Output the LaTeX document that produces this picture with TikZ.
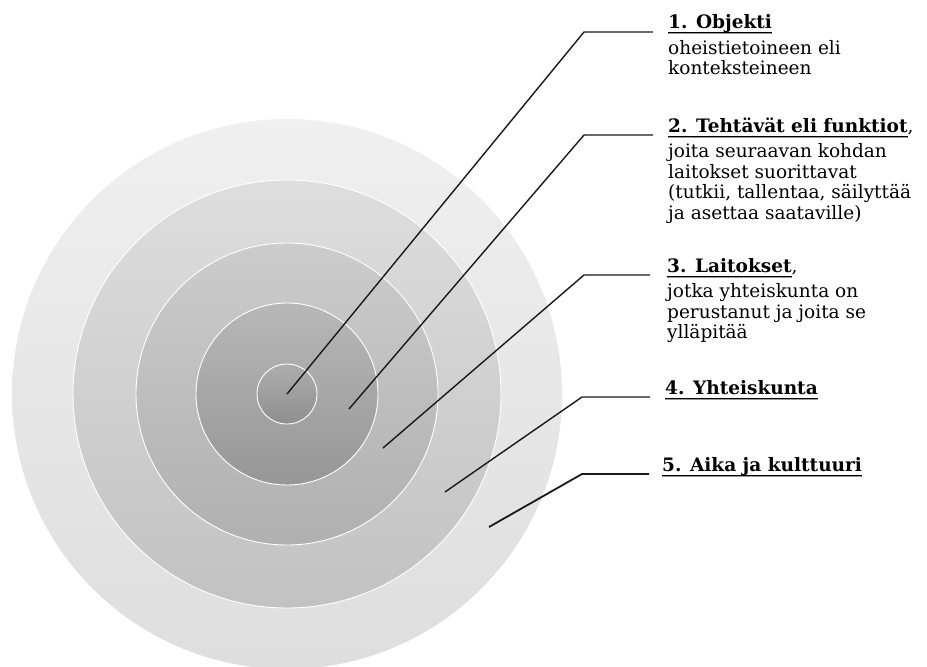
\documentclass[tikz,border=0pt]{standalone}
\usepackage{fontspec}
\setmainfont{DejaVu Serif}
\usepackage{tikz}
\usetikzlibrary{arrows.meta,shapes}

% underlined heading with a grey shadow below the rule
\newcommand{\ulhead}[1]{\setbox0\hbox{\bfseries #1}%
\rlap{\color{black!40}\rule[-6.2pt]{\wd0}{1.4pt}}%
\rlap{\rule[-4.8pt]{\wd0}{1.1pt}}\box0}

\begin{document}
\begin{tikzpicture}[x=1pt,y=-1pt]
\useasboundingbox (0,0) rectangle (927,667);
\tikzstyle{ring}=[circle,inner sep=0pt,draw=white,line width=0.9pt]
\tikzstyle{lbl}=[anchor=base west,inner sep=0pt,font=\fontsize{18.5}{20.5}\selectfont]
\tikzstyle{leader}=[line width=1.4pt,color=black!90]
%\draw node{rings};
\node[ring,minimum size=550pt,draw=none,top color=black!6,bottom color=black!13] (c5) at (287,394) {};
\node[ring,minimum size=428pt,top color=black!13,bottom color=black!24] (c4) at (287,394) {};
\node[ring,minimum size=302pt,top color=black!20,bottom color=black!31] (c3) at (287,394) {};
\node[ring,minimum size=182pt,top color=black!28,bottom color=black!41] (c2) at (287,394) {};
\node[ring,minimum size=60pt,top color=black!32,bottom color=black!44] (c1) at (287,394) {};
%\node[circle] (cc) at (287,394) {};
\coordinate (p1) at (287,394);
\coordinate (p2) at (349,409);
\coordinate (p3) at (383,448);
\coordinate (p4) at (445,492);
\coordinate (p5) at (489,527);
\coordinate (k1) at (584,32);
\coordinate (k2) at (584,135);
\coordinate (k3) at (584,275);
\coordinate (k4) at (582,397);
\coordinate (k5) at (582,474);
\coordinate (e1) at (653,32);
\coordinate (e2) at (653,135);
\coordinate (e3) at (650,275);
\coordinate (e4) at (650,397);
\coordinate (e5) at (649,474);
%\node[rectangle](T0) at (668,0) {};
\node[lbl] (t1) at (668,28) {\begin{tabular}[t]{@{}l@{}}\ulhead{1. Objekti}\\[5.5pt]
oheistietoineen eli\\ konteksteineen\end{tabular}};
\node[lbl] (t2) at (668,132) {\begin{tabular}[t]{@{}l@{}}\ulhead{2. Tehtävät eli funktiot},\\[5pt]
joita seuraavan kohdan\\ laitokset suorittavat\\ (tutkii, tallentaa, säilyttää\\ ja asettaa saataville)\end{tabular}};
\node[lbl] (t3) at (667,272) {\begin{tabular}[t]{@{}l@{}}\ulhead{3. Laitokset},\\[5pt]
jotka yhteiskunta on\\ perustanut ja joita se\\ ylläpitää\end{tabular}};
\node[lbl] (t4) at (665,394) {\ulhead{4. Yhteiskunta}};
\node[lbl] (t5) at (662,471) {\ulhead{5. Aika ja kulttuuri}};
\draw[leader] (p1)--(k1)--(e1);
\draw[leader] (p2)--(k2)--(e2);
\draw[leader] (p3)--(k3)--(e3);
\draw[leader] (p4)--(k4)--(e4);
\draw[leader,line width=1.8pt] (p5)--(k5)--(e5);
\end{tikzpicture}
\end{document}
